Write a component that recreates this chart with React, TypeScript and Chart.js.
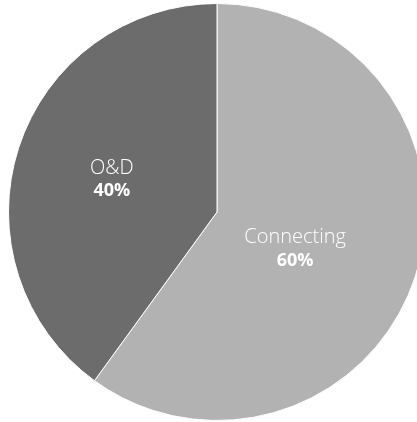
import React, { useEffect, useRef } from "react";
import { Chart, registerables } from "chart.js";

Chart.register(...registerables);

const categories = ["Connecting", "O&D"];
const shares = [60, 40];
const percentLabels = ["60%", "40%"];
const sliceColors = ["#b2b2b2", "#6c6c6c"];

const labelPlugin = {
  id: "sliceLabels",
  afterDatasetsDraw(chart: any) {
    const ctx = chart.ctx;
    const meta = chart.getDatasetMeta(0);
    const offsets = [
      { dx: -21, dy: 5 },
      { dx: -6, dy: 0 },
    ];
    meta.data.forEach((arc: any, i: number) => {
      const p = arc.tooltipPosition();
      const x = p.x + offsets[i].dx;
      const y = p.y + offsets[i].dy;
      ctx.save();
      ctx.fillStyle = "#ffffff";
      ctx.textAlign = "center";
      ctx.textBaseline = "middle";
      ctx.font = "300 20px 'Open Sans'";
      ctx.fillText(categories[i], x, y - 11.5);
      ctx.font = "bold 18px 'Open Sans'";
      ctx.fillText(percentLabels[i], x, y + 11.5);
      ctx.restore();
    });
  },
};

export default function App() {
  const ref = useRef<HTMLCanvasElement>(null);
  useEffect(() => {
    if (!ref.current) return;
    const chart = new Chart(ref.current, {
      type: "pie",
      data: {
        labels: categories,
        datasets: [
          {
            data: shares,
            backgroundColor: sliceColors,
            borderColor: "#ffffff",
            borderWidth: 1,
          },
        ],
      },
      options: {
        animation: false,
        responsive: false,
        maintainAspectRatio: false,
        layout: { padding: 3 },
        plugins: {
          legend: { display: false },
          tooltip: { enabled: false },
        },
      },
      plugins: [labelPlugin],
    });
    return () => chart.destroy();
  }, []);
  return (
    <div
      style={{
        position: "fixed",
        left: 0,
        top: 0,
        width: 417,
        height: 422,
        overflow: "hidden",
        background: "#fff",
      }}
    >
      <canvas ref={ref} width={434} height={424} style={{ width: 434, height: 424 }} />
    </div>
  );
}
